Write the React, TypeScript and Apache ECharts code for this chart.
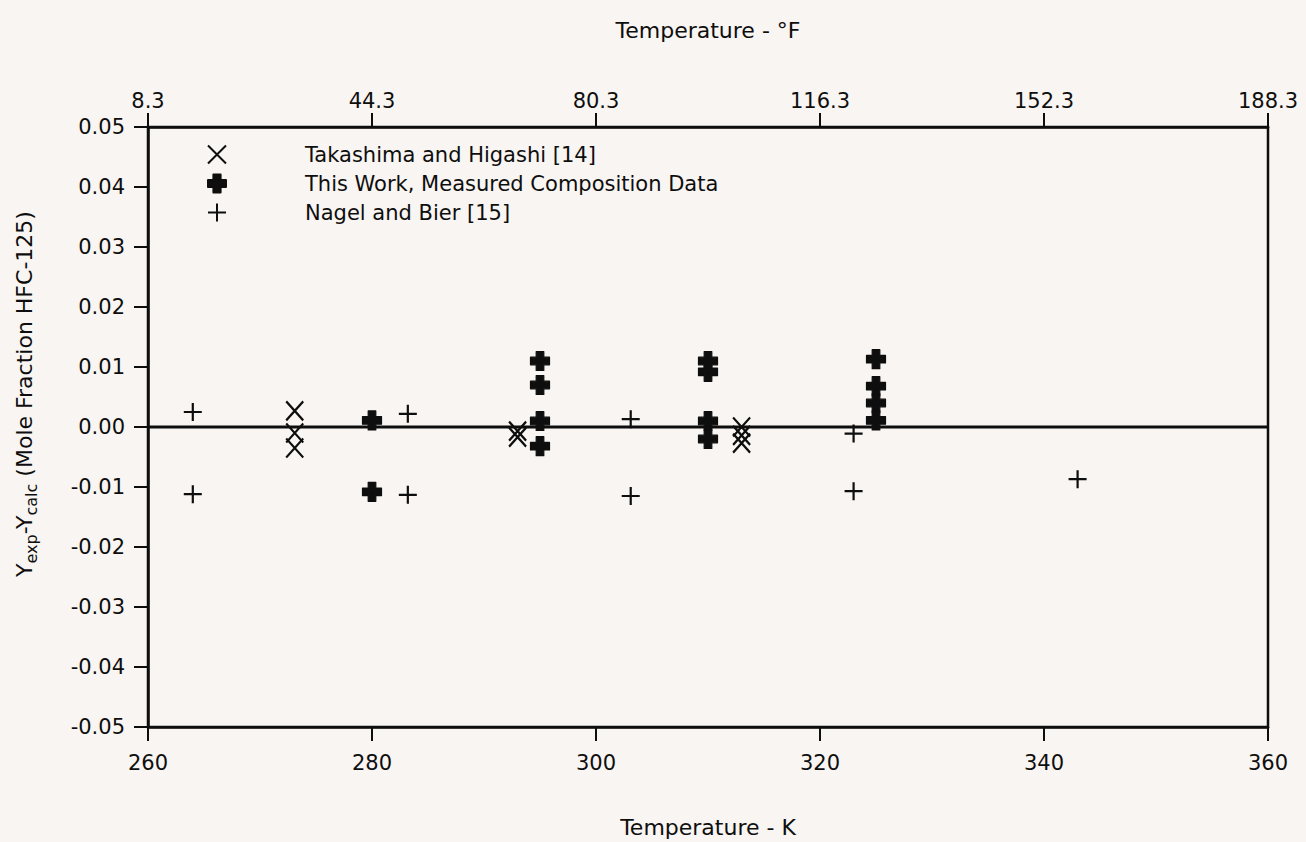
import React, { useEffect, useRef } from 'react';
import * as echarts from 'echarts';

// ---- Data ----
const kelvinTicks = [260, 280, 300, 320, 340, 360];
const fahrenheitLabels = ['8.3', '44.3', '80.3', '116.3', '152.3', '188.3'];

const takashimaT = [273.1, 273.1, 273.1, 293.0, 293.0, 313.0, 313.0, 313.0];
const takashimaDy = [0.0027, -0.001, -0.0035, -0.0007, -0.0017, 0.0, -0.0014, -0.0027];

const thisWorkT = [280, 280, 295, 295, 295, 295, 310, 310, 310, 310, 325, 325, 325, 325];
const thisWorkDy = [0.0011, -0.0108, 0.011, 0.007, 0.001, -0.0032, 0.011, 0.0092, 0.001, -0.002, 0.0113, 0.0068, 0.004, 0.0011];

const nagelT = [264.0, 264.0, 283.2, 283.2, 303.1, 303.1, 323.0, 323.0, 343.0];
const nagelDy = [0.0025, -0.0112, 0.0022, -0.0113, 0.0013, -0.0115, -0.0011, -0.0107, -0.0087];

const zeroLineT = [260, 360];
const zeroLineDy = [0, 0];

const seriesNames = [
  'Takashima and Higashi [14]',
  'This Work, Measured Composition Data',
  'Nagel and Bier [15]',
];

const FONT = '"DejaVu Sans", "Liberation Sans", Arial, sans-serif';
const INK = '#0e0e0e';
const BG = '#f8f5f2';

const SYM_X = 'path://M0,0L10,10M10,0L0,10';
const SYM_PLUS = 'path://M5,0L5,10M0,5L10,5';
const SYM_BOLD = 'path://M3,0L7,0L7,3L10,3L10,7L7,7L7,10L3,10L3,7L0,7L0,3L3,3Z';

const pairs = (xs: number[], ys: number[]) => xs.map((x, i) => [x, ys[i]]);

export default function App() {
  const ref = useRef<HTMLDivElement>(null);

  useEffect(() => {
    document.body.style.margin = '0';
    document.body.style.background = BG;
    if (!ref.current) return;
    const chart = echarts.init(ref.current, undefined, { renderer: 'svg' });

    const axisCommon = {
      type: 'value' as const,
      min: 260,
      max: 360,
      interval: 20,
      axisLine: { show: true, onZero: false, lineStyle: { color: INK, width: 2.5 } },
      axisTick: { show: true, inside: false, length: 14, lineStyle: { color: INK, width: 2 } },
      splitLine: { show: false },
    };

    chart.setOption({
      animation: false,
      backgroundColor: BG,
      textStyle: { fontFamily: FONT },
      grid: {
        left: 148,
        right: 38,
        top: 127,
        bottom: 115,
        show: true,
        borderColor: INK,
        borderWidth: 2.5,
        backgroundColor: 'transparent',
      },
      xAxis: [
        {
          ...axisCommon,
          position: 'bottom',
          axisLabel: {
            margin: 25,
            color: INK,
            fontSize: 21,
            fontFamily: FONT,
            formatter: (v: number) => String(Math.round(v)),
          },
        },
        {
          ...axisCommon,
          position: 'top',
          axisLabel: {
            margin: 16,
            color: INK,
            fontSize: 21,
            fontFamily: FONT,
            formatter: (v: number) => {
              const i = kelvinTicks.indexOf(Math.round(v));
              return i >= 0 ? fahrenheitLabels[i] : '';
            },
          },
        },
      ],
      yAxis: {
        type: 'value',
        min: -0.05,
        max: 0.05,
        interval: 0.01,
        axisLine: { show: true, onZero: false, lineStyle: { color: INK, width: 2.5 } },
        axisTick: { show: true, inside: false, length: 14, lineStyle: { color: INK, width: 2 } },
        splitLine: { show: false },
        axisLabel: {
          margin: 23,
          color: INK,
          fontSize: 21,
          fontFamily: FONT,
          formatter: (v: number) => (Math.abs(v) < 1e-9 ? '0.00' : v.toFixed(2)),
        },
      },
      legend: {
        data: seriesNames,
        orient: 'vertical',
        left: 202,
        top: 139,
        itemWidth: 18,
        itemHeight: 18,
        itemGap: 8,
        selectedMode: false,
        formatter: (name: string) => `{g| }${name}`,
        textStyle: {
          color: INK,
          fontSize: 21,
          fontFamily: FONT,
          rich: { g: { width: 74 } },
        },
      },
      graphic: [
        {
          type: 'text',
          x: 708,
          y: 30,
          style: {
            text: 'Temperature - °F',
            font: `22px ${FONT}`,
            fill: INK,
            align: 'center',
            verticalAlign: 'middle',
          },
        },
        {
          type: 'text',
          x: 708,
          y: 827,
          style: {
            text: 'Temperature - K',
            font: `22px ${FONT}`,
            fill: INK,
            align: 'center',
            verticalAlign: 'middle',
          },
        },
        {
          type: 'text',
          x: 24,
          y: 394,
          rotation: Math.PI / 2,
          style: {
            text: '{b|Y}{s|exp}{b|-Y}{s|calc}{b| (Mole Fraction HFC-125)}',
            align: 'center',
            verticalAlign: 'middle',
            fill: INK,
            rich: {
              b: { fontSize: 22, fontFamily: FONT, fill: INK, lineHeight: 30 },
              s: { fontSize: 16, fontFamily: FONT, fill: INK, verticalAlign: 'bottom', lineHeight: 18 },
            },
          },
        },
      ],
      series: [
        {
          type: 'line',
          name: 'zero',
          data: pairs(zeroLineT, zeroLineDy),
          symbol: 'none',
          silent: true,
          lineStyle: { color: INK, width: 2.8 },
          z: 1,
        },
        {
          type: 'scatter',
          name: seriesNames[0],
          data: pairs(takashimaT, takashimaDy),
          symbol: SYM_X,
          symbolSize: [17, 19],
          itemStyle: { color: 'transparent', borderColor: INK, borderWidth: 2.3, opacity: 1 },
          z: 3,
        },
        {
          type: 'scatter',
          name: seriesNames[1],
          data: pairs(thisWorkT, thisWorkDy),
          symbol: SYM_BOLD,
          symbolSize: 19,
          itemStyle: { color: INK, borderColor: INK, borderWidth: 1.2, borderJoin: 'round', opacity: 1 },
          z: 3,
        },
        {
          type: 'scatter',
          name: seriesNames[2],
          data: pairs(nagelT, nagelDy),
          symbol: SYM_PLUS,
          symbolSize: 18,
          itemStyle: { color: 'transparent', borderColor: INK, borderWidth: 2.2, opacity: 1 },
          z: 3,
        },
      ],
    });

    return () => chart.dispose();
  }, []);

  return (
    <div
      ref={ref}
      style={{ position: 'absolute', left: 0, top: 0, width: 1306, height: 842, background: BG }}
    />
  );
}
